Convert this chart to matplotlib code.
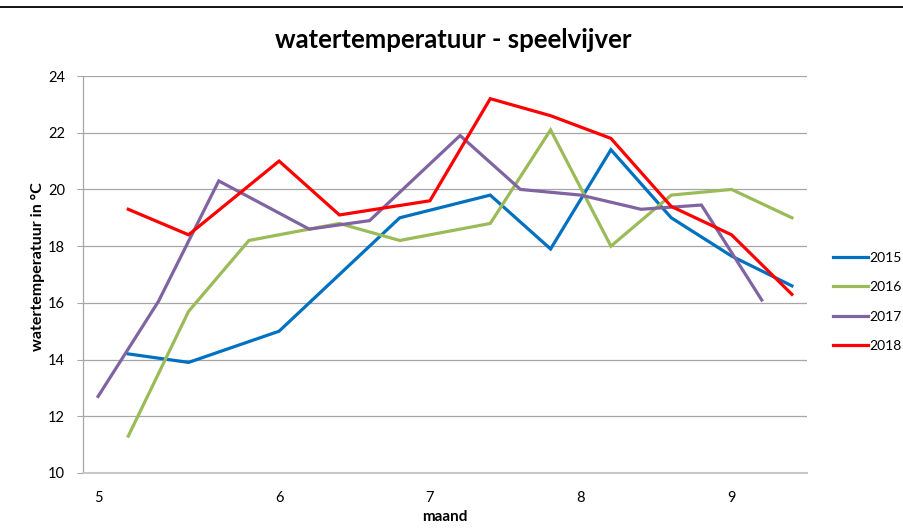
import numpy as np
import matplotlib
matplotlib.use("Agg")
import matplotlib.pyplot as plt
from matplotlib.lines import Line2D

nan = np.nan

# 24 measurement moments; month number shown at the first measurement of each month
categories = ['5', '', '', '', '', '', '6', '', '', '', '', '7', '', '', '', '', '8', '', '', '', '', '9', '', '']

t2015 = [nan, 14.2, nan, 13.9, nan, nan, 15.0, nan, nan, nan, 19.0, nan, nan, 19.8, nan, 17.9, nan, 21.4, nan, 19.0, nan, 17.65, nan, 16.6]
t2016 = [nan, 11.3, nan, 15.7, nan, 18.2, nan, nan, 18.8, nan, 18.2, nan, nan, 18.8, nan, 22.1, nan, 18.0, nan, 19.8, nan, 20.0, nan, 19.0]
t2017 = [12.7, nan, 16.05, nan, 20.3, nan, nan, 18.6, nan, 18.9, nan, nan, 21.9, nan, 20.0, nan, 19.8, nan, 19.3, nan, 19.45, nan, 16.1, nan]
t2018 = [nan, 19.3, nan, 18.4, nan, nan, 21.0, nan, 19.1, nan, nan, 19.6, nan, 23.2, nan, 22.6, nan, 21.8, nan, 19.4, nan, 18.4, nan, 16.3]

series = {'2015': t2015, '2016': t2016, '2017': t2017, '2018': t2018}
colors = {'2015': '#0070C0', '2016': '#9BBB59', '2017': '#8064A2', '2018': '#FF0000'}

title = 'watertemperatuur - speelvijver'
ylabel = 'watertemperatuur in °C'
xlabel = 'maand'

plt.rcParams['font.family'] = ['Lato', 'DejaVu Sans']

fig = plt.figure(figsize=(9.04, 5.30), dpi=100)
W, H = 904, 530
ax = fig.add_axes([83 / W, 1 - 473 / H, (807 - 83) / W, (473 - 76) / H])

x = np.arange(len(categories))
for name, vals in series.items():
    v = np.array(vals, dtype=float)
    m = ~np.isnan(v)
    ax.plot(x[m], v[m], color=colors[name], lw=2.3, label=name, solid_joinstyle='miter')

ax.set_xlim(-0.5, len(categories) - 0.5)
ax.set_ylim(10, 24)
ax.set_yticks(np.arange(10, 25, 2))
ax.set_xticks(x)
ax.set_xticklabels(categories)
ax.tick_params(axis='x', length=0, pad=13, labelsize=10.5, colors='#000000')
ax.tick_params(axis='y', length=4, width=0.8, color='#A6A6A6', pad=9, labelsize=10.5)
ax.yaxis.grid(True, color='#A6A6A6', lw=0.9)
ax.set_axisbelow(True)
for s in ['top', 'right']:
    ax.spines[s].set_visible(False)
ax.spines['left'].set_color('#A6A6A6')
ax.spines['left'].set_linewidth(0.9)
ax.spines['bottom'].set_color('#C8C8C8')
ax.spines['bottom'].set_linewidth(1.5)

fig.text(453 / W, 1 - 40 / H, title, ha='center', va='center', fontsize=18.5, fontweight='bold')
fig.text(38 / W, 1 - 267 / H, ylabel, ha='center', va='center', rotation=90, fontsize=11.5, fontweight='bold')
fig.text(445 / W, 1 - 517 / H, xlabel, ha='center', va='center', fontsize=11, fontweight='bold')

leg = ax.legend(loc='center left', bbox_to_anchor=(826 / W, 1 - 302 / H), bbox_transform=fig.transFigure,
                frameon=False, fontsize=10, handlelength=2.5, handletextpad=0.15, labelspacing=1.25, borderpad=0)

fig.add_artist(Line2D([0, 1], [1 - 7 / H, 1 - 7 / H], color='black', lw=1.3))

fig.savefig('out.png', dpi=100)
